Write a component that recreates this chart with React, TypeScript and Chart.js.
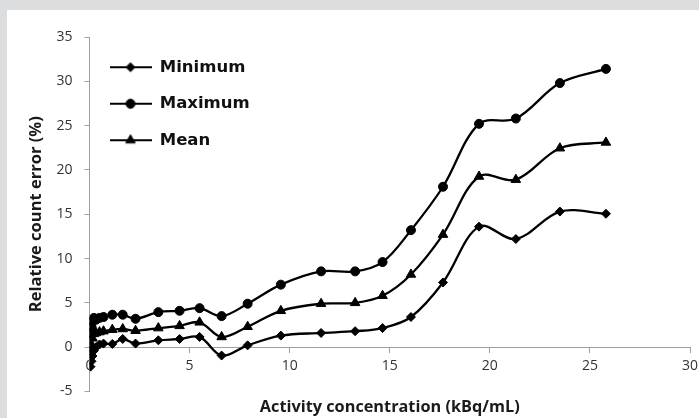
import React, { useEffect, useRef } from 'react';
import { Chart, registerables } from 'chart.js';
import { drawPoint } from 'chart.js/helpers';

Chart.register(...registerables);

// Activity concentration (kBq/mL)
const concentration = [0.05, 0.1, 0.15, 0.22, 0.33, 0.5, 0.7, 1.14, 1.66, 2.3, 3.44, 4.5, 5.5, 6.6, 7.9, 9.56, 11.57, 13.27, 14.64, 16.06, 17.66, 19.46, 21.3, 23.5, 25.8];
// Relative count error (%)
const minimum = [-2.2, -1.6, -1.0, -0.4, 0.0, 0.3, 0.4, 0.36, 0.92, 0.4, 0.77, 0.92, 1.15, -0.95, 0.2, 1.3, 1.6, 1.8, 2.15, 3.4, 7.3, 13.6, 12.2, 15.3, 15.05];
const maximum = [1.6, 2.3, 2.9, 3.3, 3.1, 3.3, 3.4, 3.66, 3.66, 3.2, 3.95, 4.1, 4.4, 3.5, 4.9, 7.05, 8.55, 8.55, 9.6, 13.2, 18.1, 25.2, 25.8, 29.8, 31.4];
const mean = [-0.5, 0.3, 1.0, 1.5, 1.6, 1.7, 1.8, 1.97, 2.05, 1.85, 2.15, 2.4, 2.8, 1.15, 2.3, 4.1, 4.9, 5.0, 5.8, 8.2, 12.7, 19.26, 18.9, 22.45, 23.1];

const seriesNames = ['Minimum', 'Maximum', 'Mean'];
const seriesStyles = ['rectRot', 'circle', 'triangle'];
const seriesRadius = [4.5, 4.5, 5.5];

const xMin = 0;
const xMax = 30;
const xStep = 5;
const yMin = -5;
const yMax = 35;
const yStep = 5;

const xTitle = 'Activity concentration (kBq/mL)';
const yTitle = 'Relative count error (%)';

function legendIcon(style: string, radius: number): HTMLCanvasElement {
  const c = document.createElement('canvas');
  c.width = 42;
  c.height = 14;
  const ctx = c.getContext('2d') as CanvasRenderingContext2D;
  ctx.strokeStyle = '#000';
  ctx.fillStyle = '#000';
  ctx.lineWidth = 2.2;
  ctx.beginPath();
  ctx.moveTo(0, c.height / 2);
  ctx.lineTo(c.width, c.height / 2);
  ctx.stroke();
  ctx.lineWidth = 1;
  drawPoint(ctx, { pointStyle: style, rotation: 0, radius, borderWidth: 1 } as any, c.width / 2, c.height / 2);
  return c;
}

export default function App() {
  const canvasRef = useRef<HTMLCanvasElement | null>(null);

  useEffect(() => {
    const canvas = canvasRef.current;
    if (!canvas) return;
    const values = [minimum, maximum, mean];
    const icons = seriesStyles.map((s, i) => legendIcon(s, seriesRadius[i]));
    const chart = new Chart(canvas, {
      type: 'line',
      data: {
        datasets: seriesNames.map((name, i) => ({
          label: name,
          data: concentration.map((x, j) => ({ x, y: values[i][j] })),
          borderColor: '#000',
          backgroundColor: '#000',
          pointBackgroundColor: '#000',
          pointBorderColor: '#000',
          borderWidth: 2.3,
          pointStyle: seriesStyles[i] as any,
          pointRadius: seriesRadius[i],
          pointBorderWidth: 1,
          tension: 0.35,
          fill: false,
        })),
      },
      options: {
        animation: false,
        responsive: true,
        maintainAspectRatio: false,
        devicePixelRatio: 1,
        layout: { padding: { left: 0, right: 37, top: 27, bottom: 0 } },
        scales: {
          x: {
            type: 'linear',
            min: xMin,
            max: xMax,
            position: { y: 0 } as any,
            afterFit: (scale: any) => {
              scale.height = 0;
            },
            border: { display: true, color: '#a0a0a0', width: 1 },
            grid: { display: true, drawOnChartArea: false, drawTicks: true, tickLength: 5, color: '#a0a0a0' },
            ticks: {
              stepSize: xStep,
              padding: 5,
              color: '#333',
              font: { family: 'Open Sans', size: 14 },
              maxRotation: 0,
            },
          },
          y: {
            type: 'linear',
            min: yMin,
            max: yMax,
            afterFit: (scale: any) => {
              scale.width = 82.5;
            },
            border: { display: true, color: '#a0a0a0', width: 1 },
            grid: { display: true, drawOnChartArea: false, drawTicks: true, tickLength: 5, color: '#a0a0a0' },
            ticks: {
              stepSize: yStep,
              padding: 12,
              color: '#333',
              font: { family: 'Open Sans', size: 14 },
            },
            title: {
              display: true,
              text: yTitle,
              color: '#1a1a1a',
              font: { family: 'Open Sans', weight: 'bold', size: 16.5 },
              padding: { top: 19, bottom: 0 },
            },
          },
        },
        plugins: {
          title: {
            display: true,
            text: xTitle,
            position: 'bottom',
            fullSize: false,
            color: '#1a1a1a',
            font: { family: 'Open Sans', weight: 'bold', size: 16.3 },
            padding: { top: 6, bottom: 1 },
          },
          legend: {
            position: 'chartArea' as any,
            align: 'start',
            title: {
              display: true,
              text: '',
              font: { size: 10 },
              padding: { top: 17, bottom: 0 },
            },
            labels: {
              usePointStyle: true,
              pointStyleWidth: 42,
              padding: 20,
              color: '#111',
              font: { family: 'DejaVu Sans', weight: 'bold', size: 16.5 },
              generateLabels: (ch: any) =>
                (Chart.defaults.plugins.legend.labels.generateLabels as any)(ch).map((l: any, i: number) => ({
                  ...l,
                  pointStyle: icons[i],
                  fontColor: '#111',
                })),
            },
          },
          tooltip: { enabled: false },
        },
      },
    });
    return () => chart.destroy();
  }, []);

  return (
    <div
      style={{
        position: 'fixed',
        left: 0,
        top: 0,
        width: 699,
        height: 418,
        overflow: 'hidden',
        background: '#dcdddf',
      }}
    >
      <div
        style={{
          position: 'absolute',
          left: 7,
          top: 10,
          width: 720,
          height: 408,
          background: '#fff',
        }}
      >
        <canvas ref={canvasRef} />
      </div>
    </div>
  );
}
